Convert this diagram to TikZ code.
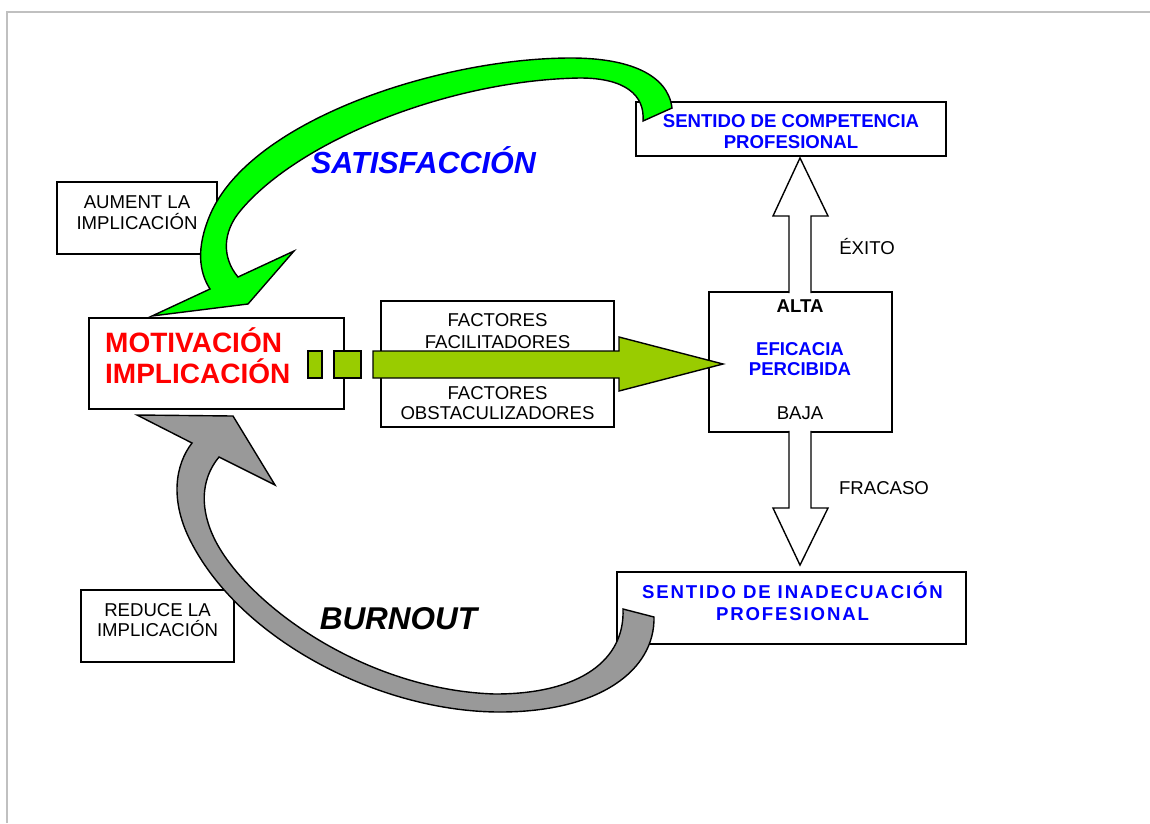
\documentclass[tikz,border=0pt]{standalone}
\usepackage{fontspec}
\setmainfont{Liberation Sans}
\usetikzlibrary{calc}
\definecolor{satgreen}{HTML}{00FF00}
\definecolor{barolive}{HTML}{99CC00}
\definecolor{pblue}{HTML}{0000FF}
\definecolor{pred}{HTML}{FF0000}
\definecolor{pgray}{HTML}{999999}
\definecolor{framegray}{HTML}{C0C0C0}
\begin{document}
\begin{tikzpicture}[x=1pt,y=-1pt,
  box/.style={draw=black, line width=1.8pt, fill=white, inner sep=0pt},
  lbl/.style={inner sep=0pt, align=center, font=\fontsize{18.6}{21}\selectfont},
  bluelbl/.style={lbl, text=pblue, font=\fontsize{18.6}{21}\selectfont\bfseries},
  shapeline/.style={draw=black, line width=1.4pt, line join=miter},
]
\useasboundingbox (0,0) rectangle (1150,823);
\fill[white] (0,0) rectangle (1150,823);
% frame
\coordinate (fa) at (7,823);
\coordinate (fb) at (7,12);
\coordinate (fc) at (1150,12);
\draw[framegray, line width=2pt] (fa) -- (fb) -- (fc);

% boxes
\node[box, minimum width=160pt, minimum height=72pt] (aum) at (137,218) {};
\node[box, minimum width=255pt, minimum height=91pt] (mot) at (216.5,363.5) {};
\node[box, minimum width=233pt, minimum height=126pt] (fac) at (497.5,364) {};
\node[box, minimum width=183pt, minimum height=140pt] (efi) at (800.5,362) {};
\node[box, minimum width=310pt, minimum height=54pt] (comp) at (791,129) {};
\node[box, minimum width=349pt, minimum height=72pt] (inad) at (791.5,608) {};
\node[box, minimum width=153pt, minimum height=72pt] (red) at (157.5,626) {};

% texts
\node[lbl] (aumt) at (137,212.5) {AUMENT LA\\IMPLICACIÓN};
\node[inner sep=0pt, anchor=base west, text=pred, font=\fontsize{28}{31}\selectfont\bfseries] (mot1) at (105,352.8) {MOTIVACIÓN};
\node[inner sep=0pt, anchor=base west, text=pred, font=\fontsize{28}{31}\selectfont\bfseries] (mot2) at (105,383.8) {IMPLICACIÓN};
\node[lbl, font=\fontsize{18.6}{22}\selectfont] (fac1) at (497.5,331) {FACTORES\\FACILITADORES};
\node[lbl, font=\fontsize{18.6}{20}\selectfont] (fac2) at (497.5,403) {FACTORES\\OBSTACULIZADORES};
\node[lbl, anchor=base, font=\fontsize{18.6}{21}\selectfont\bfseries] (alta) at (800,312.6) {ALTA};
\node[bluelbl, font=\fontsize{18.6}{20}\selectfont\bfseries] (efit) at (800,359) {EFICACIA\\PERCIBIDA};
\node[lbl, anchor=base] (baja) at (800,419.6) {BAJA};
\node[bluelbl] (compt) at (791,131.5) {SENTIDO DE COMPETENCIA\\PROFESIONAL};
\node[bluelbl, anchor=base, font=\fontsize{18.6}{21}\selectfont\bfseries\addfontfeature{LetterSpace=10}] (inad1) at (792.5,598.6) {SENTIDO DE INADECUACIÓN};
\node[bluelbl, anchor=base, font=\fontsize{18.6}{21}\selectfont\bfseries\addfontfeature{LetterSpace=10}] (inad2) at (792.5,620.6) {PROFESIONAL};
\node[lbl, font=\fontsize{18.6}{20}\selectfont] (redt) at (157.5,620) {REDUCE LA\\IMPLICACIÓN};
\node[lbl, anchor=base] (exito) at (867,254.6) {ÉXITO};
\node[lbl, anchor=base] (fracaso) at (884,494.6) {FRACASO};
\node[inner sep=0pt, anchor=base, text=pblue, font=\fontsize{30.5}{34}\selectfont\bfseries\itshape] (sat) at (423.5,173.9) {SATISFACCIÓN};
\node[inner sep=0pt, anchor=base, font=\fontsize{31.5}{34}\selectfont\bfseries\itshape] (burn) at (398.5,629.3) {BURNOUT};

% hollow arrows
\coordinate (upL) at ($(efi.north)+(-11.5,2)$);
\coordinate (upR) at ($(efi.north)+(10.5,2)$);
\coordinate (uptip) at ($(comp.south)+(9,1)$);
\fill[white] (upL) -- (789,216) -- (773,216) -- (uptip) -- (828,216) -- (811,216) -- (upR) -- cycle;
\draw[shapeline] (upL) -- (789,216) -- (773,216) -- (uptip) -- (828,216) -- (811,216) -- (upR);
\coordinate (dnL) at ($(efi.south)+(-11.5,-2)$);
\coordinate (dnR) at ($(efi.south)+(10.5,-2)$);
\coordinate (dntip) at ($(inad.north)+(8.5,-6)$);
\fill[white] (dnL) -- (789,508) -- (773,508) -- (dntip) -- (828,508) -- (811,508) -- (dnR) -- cycle;
\draw[shapeline] (dnL) -- (789,508) -- (773,508) -- (dntip) -- (828,508) -- (811,508) -- (dnR);

% straight green arrow with dashes
\draw[shapeline, fill=barolive] (308,351) rectangle (322,378);
\draw[shapeline, fill=barolive] (334,351) rectangle (361,378);
\draw[shapeline, fill=barolive] (373,351) -- (619,351) -- (619,337) -- (723,364) -- (619,391) -- (619,378) -- (373,378) -- cycle;

% satisfaction curved arrow
\draw[shapeline, fill=satgreen] (672,108) .. controls (668,75) and (630,58) .. (571,58)
  .. controls (440,58) and (250,120) .. (210,215)
  .. controls (196,248) and (199,272) .. (210,289)
  -- (152,316) -- (248,304) -- (294,251) -- (238,277)
  .. controls (222,258) and (222,232) .. (241,210)
  .. controls (300,140) and (450,80) .. (580,78)
  .. controls (625,78) and (645,95) .. (643,121) -- cycle;

% burnout curved arrow
\draw[shapeline, fill=pgray] (654,617) .. controls (655,670) and (600,712) .. (500,712)
  .. controls (380,712) and (240,640) .. (190,540)
  .. controls (170,500) and (175,465) .. (192,443)
  -- (137,415) -- (233,416) -- (275,485) -- (219,457)
  .. controls (200,480) and (200,510) .. (215,540)
  .. controls (248,605) and (365,690) .. (495,694)
  .. controls (580,694) and (625,660) .. (623,609) -- cycle;
\end{tikzpicture}
\end{document}
